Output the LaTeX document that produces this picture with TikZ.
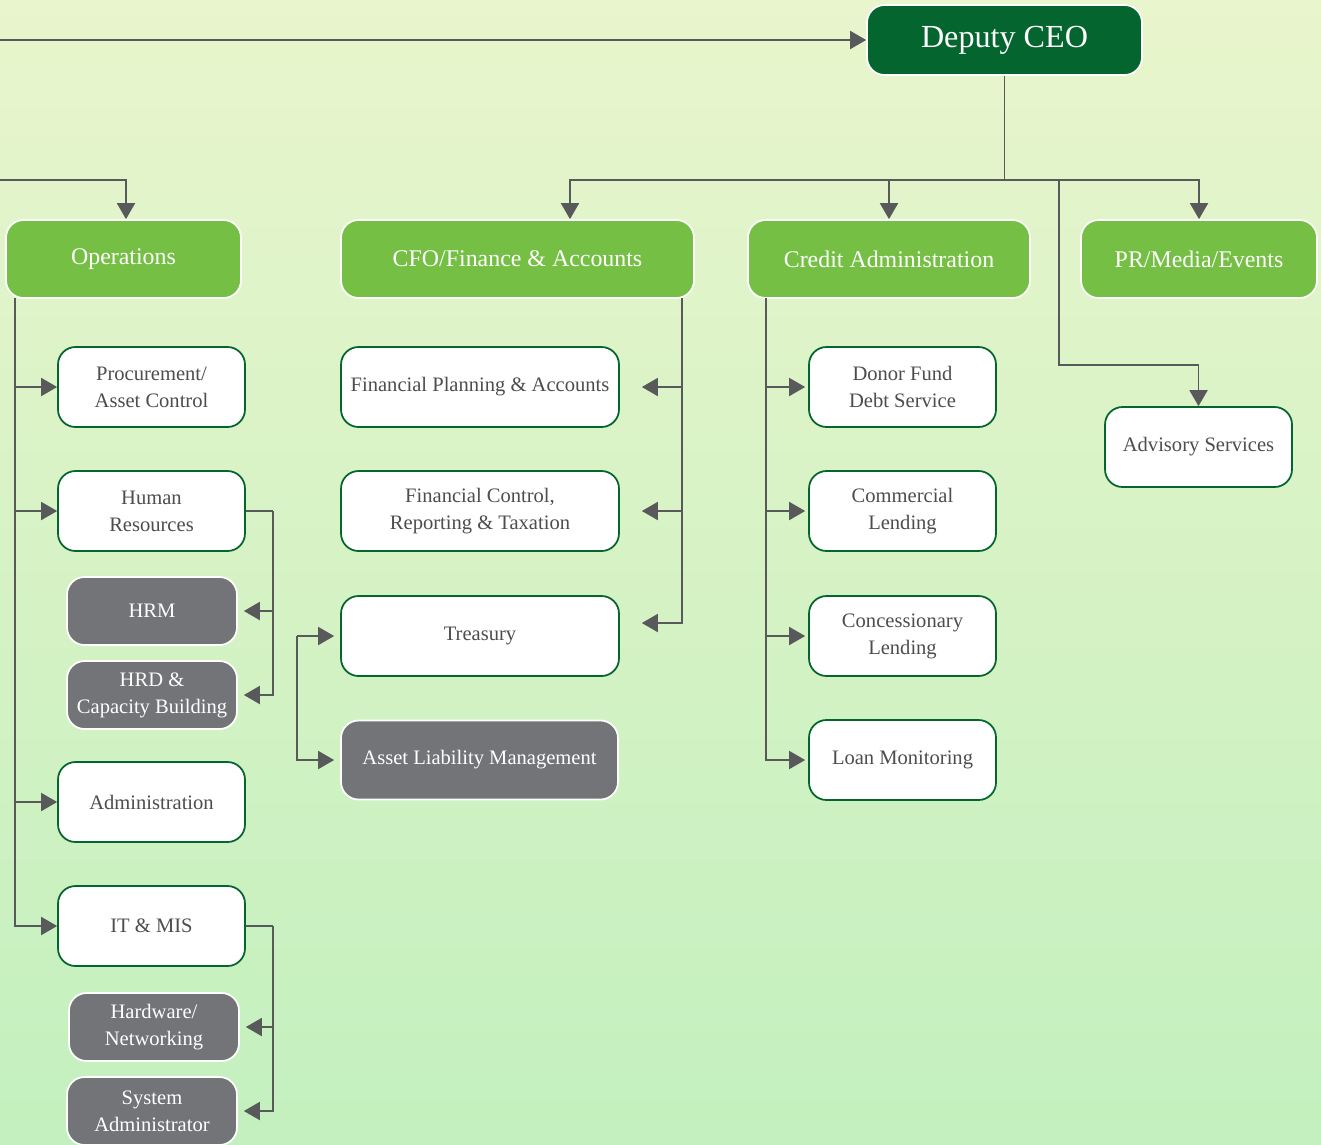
\documentclass[tikz,border=0pt]{standalone}
\usepackage{fontspec}
\setmainfont{Liberation Serif}
\usetikzlibrary{arrows.meta,calc}

\definecolor{ceoGreen}{HTML}{05652F}
\definecolor{headGreen}{HTML}{74BF44}
\definecolor{boxGrey}{HTML}{737477}
\definecolor{lineGrey}{HTML}{58595B}
\definecolor{textGrey}{HTML}{4D4D4F}
\definecolor{bgTop}{HTML}{E9F5CC}
\definecolor{bgBot}{HTML}{C3F0BE}

\begin{document}
\begin{tikzpicture}[x=0.02cm, y=-0.02cm,
    >={Triangle[length=3.2mm,width=3.6mm]},
    conn/.style={draw=lineGrey, line width=1.1pt},
    arr/.style={conn, ->},
    box/.style={rounded corners=3.5mm, align=center, inner sep=2pt, line width=1pt},
    ceobox/.style={box, fill=ceoGreen, draw=white, text=white,
        minimum width=5.5cm, minimum height=1.4cm, font=\fontsize{18.3}{21}\selectfont},
    head/.style={box, fill=headGreen, draw=white, text=white,
        minimum height=1.56cm, font=\fontsize{13.6}{16}\selectfont},
    unit/.style={box, fill=white, draw=ceoGreen, text=textGrey,
        minimum width=3.74cm, minimum height=1.6cm, font=\fontsize{11.7}{15.3}\selectfont},
    sub/.style={box, fill=boxGrey, draw=white, text=white,
        minimum width=3.4cm, minimum height=1.36cm, font=\fontsize{11.7}{15.3}\selectfont}]

    % 背景
    \useasboundingbox (0,0) rectangle (1321,1144);
    \fill[top color=bgTop, bottom color=bgBot] (0,0) rectangle (1321,1144);

    % 顶层与部门
    \node[ceobox] (ceo) at (1004.5,40) {Deputy CEO};
    \node[head, minimum width=4.7cm]  (ops)    at (123.5,259) {Operations};
    \node[head, minimum width=7.06cm] (cfo)    at (517.5,259) {CFO/Finance \& Accounts};
    \node[head, minimum width=5.64cm] (credit) at (889,259)   {Credit Administration};
    \node[head, minimum width=4.72cm] (pr)     at (1199,259)  {PR/Media/Events};

    % Operations 下属
    \node[unit] (proc)  at (151.5,387) {Procurement/\\Asset Control};
    \node[unit] (hr)    at (151.5,511) {Human\\Resources};
    \node[sub]  (hrm)   at (152,611)   {HRM};
    \node[sub]  (hrd)   at (152,695)   {HRD \&\\Capacity Building};
    \node[unit] (admin) at (151.5,802) {Administration};
    \node[unit] (it)    at (151.5,926) {IT \& MIS};
    \node[sub]  (hw)    at (154,1027)  {Hardware/\\Networking};
    \node[sub]  (sysad) at (152,1111)  {System\\Administrator};

    % 财务下属
    \node[unit, minimum width=5.56cm] (fpa)   at (480,387) {Financial Planning \& Accounts};
    \node[unit, minimum width=5.56cm] (fcr)   at (480,511) {Financial Control,\\Reporting \& Taxation};
    \node[unit, minimum width=5.56cm] (treas) at (480,636) {Treasury};
    \node[sub, minimum width=5.54cm, minimum height=1.58cm] (alm) at (479.5,760) {Asset Liability Management};

    % 信贷下属
    \node[unit] (donor) at (902.5,387) {Donor Fund\\Debt Service};
    \node[unit] (comm)  at (902.5,511) {Commercial\\Lending};
    \node[unit] (conc)  at (902.5,636) {Concessionary\\Lending};
    \node[unit] (loan)  at (902.5,760) {Loan Monitoring};

    \node[unit] (adv) at (1198.5,447) {Advisory Services};

    % 连线坐标
    \coordinate (ceoIn)    at (0,40);
    \coordinate (opsIn)    at (0,180);
    \coordinate (split)    at (1004.5,180);
    \coordinate (advTap)   at (1059,180);
    \coordinate (advBend)  at (1059,365);
    \coordinate (opsTrunk) at (15,298);
    \coordinate (cfoTrunk) at (682,298);
    \coordinate (crdTrunk) at (766,298);
    \coordinate (hrTap)    at (273,511);
    \coordinate (itTap)    at (273,926);
    \coordinate (almTap)   at (297,636);

    % 上层连线
    \draw[arr] (ceoIn) -- (ceo);
    \draw[arr] (opsIn) -| ([xshift=0.05cm]ops.north);
    \draw[conn] (ceo) -- (split);
    \draw[arr] (split) -| ([xshift=1.05cm]cfo.north);
    \draw[arr] (split) -| (credit);
    \draw[arr] (split) -| (pr);
    \draw[arr] (advTap) -- (advBend) -| (adv);

    % 各部门分支
    \foreach \n in {proc,hr,admin,it}
        \draw[arr] (opsTrunk) |- (\n);
    \draw[conn] (hr) -- (hrTap);
    \draw[conn] (it) -- (itTap);
    \foreach \n in {hrm,hrd}
        \draw[arr, shorten >=1.2mm] (hrTap) |- (\n);
    \foreach \n in {hw,sysad}
        \draw[arr, shorten >=1.2mm] (itTap) |- (\n);

    \draw[arr, shorten >=0.44cm] (cfoTrunk) |- (fpa);
    \draw[arr, shorten >=0.44cm] (cfoTrunk) |- (fcr);
    \draw[arr, shorten >=0.44cm] (cfoTrunk) |- ([yshift=0.26cm]treas.east);
    \draw[arr, shorten >=1.2mm] (almTap) -- (treas);
    \draw[arr, shorten >=1.2mm] (almTap) |- (alm);

    \foreach \n in {donor,comm,conc,loan}
        \draw[arr, shorten >=0.6mm] (crdTrunk) |- (\n);
\end{tikzpicture}
\end{document}
